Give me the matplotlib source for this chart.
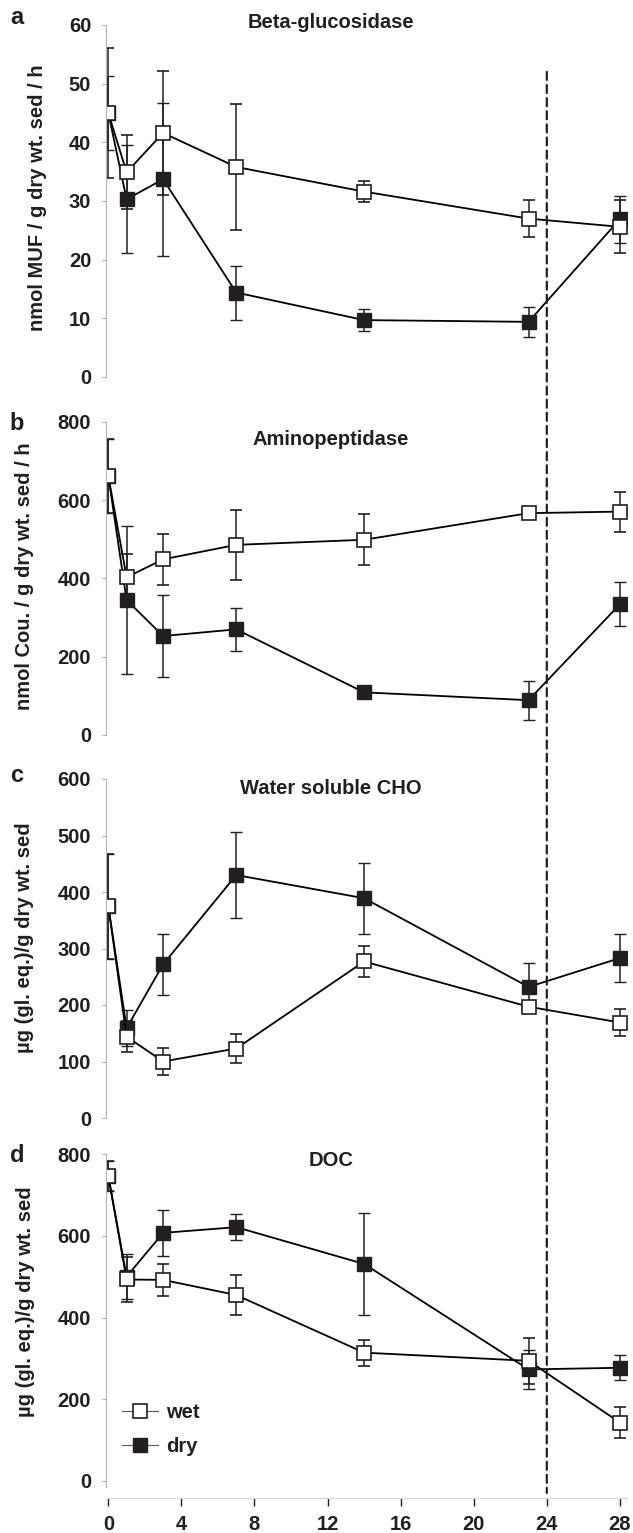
import matplotlib
matplotlib.use("Agg")
import matplotlib.pyplot as plt
from matplotlib.lines import Line2D
from matplotlib.patches import ConnectionPatch

plt.rcParams['font.family'] = ['Liberation Sans', 'DejaVu Sans']
plt.rcParams['font.weight'] = 'bold'

days = [0, 1, 3, 7, 14, 23, 28]
dry_start = 24

beta_wet = [45.0, 34.9, 41.6, 35.8, 31.6, 27.0, 25.6]
beta_wet_err = [11.0, 6.3, 10.5, 10.7, 1.8, 3.2, 4.5]
beta_dry = [45.0, 30.3, 33.7, 14.4, 9.7, 9.4, 26.9]
beta_dry_err = [6.3, 9.2, 13.0, 4.6, 1.9, 2.5, 4.0]

amino_wet = [662, 403, 449, 486, 499, 567, 571]
amino_wet_err = [95, 59, 65, 90, 65, 10, 51]
amino_dry = [662, 345, 253, 270, 109, 89, 334]
amino_dry_err = [95, 189, 105, 55, 10, 50, 56]

cho_wet = [375, 144, 100, 123, 277, 197, 169]
cho_wet_err = [93, 27, 24, 25, 28, 8, 24]
cho_dry = [375, 159, 272, 430, 389, 232, 283]
cho_dry_err = [93, 32, 54, 76, 63, 43, 43]

doc_wet = [746, 493, 492, 455, 314, 294, 143]
doc_wet_err = [37, 55, 39, 50, 32, 57, 38]
doc_dry = [746, 500, 607, 621, 531, 273, 277]
doc_dry_err = [37, 55, 56, 32, 125, 48, 31]

x_ticks = [0, 4, 8, 12, 16, 20, 24, 28]

W, H = 633, 1533
fig = plt.figure(figsize=(W / 100, H / 100), dpi=100)

# panel layout in pixels: (top, bottom) of the y range
left_px, right_px = 106.5, 627.2
spine_grey = '#b5b5b5'
ink = '#231f20'
fs = 14.5

panels = [
    dict(letter='a', title='Beta-glucosidase', top=25, bottom=377, ylim=(0, 60), yticks=range(0, 61, 10),
         wet=beta_wet, wet_err=beta_wet_err, dry=beta_dry, dry_err=beta_dry_err,
         ylabel='nmol MUF / g dry wt. sed / h', title_y=22, label_xy=(47, 198), letter_y=18),
    dict(letter='b', title='Aminopeptidase', top=422, bottom=735, ylim=(0, 800), yticks=range(0, 801, 200),
         wet=amino_wet, wet_err=amino_wet_err, dry=amino_dry, dry_err=amino_dry_err,
         ylabel='nmol Cou. / g dry wt. sed / h', title_y=440, label_xy=(34, 576), letter_y=423),
    dict(letter='c', title='Water soluble CHO', top=779, bottom=1118, ylim=(0, 600), yticks=range(0, 601, 100),
         wet=cho_wet, wet_err=cho_wet_err, dry=cho_dry, dry_err=cho_dry_err,
         ylabel='µg (gl. eq.)/g dry wt. sed', title_y=789, label_xy=(34, 938), letter_y=775),
    dict(letter='d', title='DOC', top=1154, bottom=1481, ylim=(0, 800), yticks=range(0, 801, 200),
         wet=doc_wet, wet_err=doc_wet_err, dry=doc_dry, dry_err=doc_dry_err,
         ylabel='µg (gl. eq.)/g dry wt. sed', title_y=1160, label_xy=(35, 1302), letter_y=1155),
]

xaxis_px = 1498
axes = []
for i, p in enumerate(panels):
    last = i == len(panels) - 1
    y0, y1 = p['ylim']
    bottom_px = p['bottom']
    lo = y0
    if last:
        # extend below zero so the time axis sits a little under the plot
        lo = y0 - (xaxis_px - p['bottom']) * (y1 - y0) / (p['bottom'] - p['top'])
        bottom_px = xaxis_px
    ax = fig.add_axes([left_px / W, 1 - bottom_px / H, (right_px - left_px) / W, (bottom_px - p['top']) / H])
    ax.set_xlim(-0.1, 28.4)
    ax.set_ylim(lo, y1)
    ax.patch.set_alpha(0)

    ax.errorbar(days, p['dry'], yerr=p['dry_err'], color='black', marker='s', ms=10, mfc=ink, mec=ink,
                mew=1.0, lw=1.3, elinewidth=1.1, capsize=4.5, capthick=1.1, ecolor=ink)
    ax.errorbar(days, p['wet'], yerr=p['wet_err'], color='black', marker='s', ms=10, mfc='white', mec=ink,
                mew=1.2, lw=1.3, elinewidth=1.1, capsize=4.5, capthick=1.1, ecolor=ink)

    for s in ['top', 'right']:
        ax.spines[s].set_visible(False)
    ax.spines['left'].set_color(spine_grey)
    ax.spines['left'].set_linewidth(0.8)
    ax.set_yticks(list(p['yticks']))
    ax.tick_params(axis='y', length=3, width=0.8, color=spine_grey, pad=8, labelsize=fs, labelcolor=ink)

    if last:
        ax.spines['left'].set_bounds(-15, y1)
        ax.spines['bottom'].set_color('#d8d8d8')
        ax.spines['bottom'].set_linewidth(0.8)
        ax.set_xticks(x_ticks)
        ax.tick_params(axis='x', length=6, width=1.0, color=ink, pad=6, labelsize=fs, labelcolor=ink)
    else:
        ax.spines['bottom'].set_visible(False)
        ax.tick_params(axis='x', bottom=False, labelbottom=False)

    h = bottom_px - p['top']
    ax.text((331 - left_px) / (right_px - left_px), (bottom_px - p['title_y']) / h, p['title'],
            transform=ax.transAxes, ha='center', va='center', fontsize=fs, fontweight='bold', color=ink)
    ax.set_ylabel(p['ylabel'], fontsize=fs, fontweight='bold', color=ink)
    ax.yaxis.set_label_coords((p['label_xy'][0] - left_px) / (right_px - left_px),
                              (bottom_px - p['label_xy'][1]) / h)
    fig.text(17 / W, 1 - p['letter_y'] / H, p['letter'], ha='center', va='center',
             fontsize=17, fontweight='bold', color=ink)
    axes.append(ax)

# dashed marker at the start of the dry period, running through all panels
con = ConnectionPatch(xyA=(dry_start, 52), coordsA='data', axesA=axes[0],
                      xyB=(dry_start, -29), coordsB='data', axesB=axes[-1],
                      color=ink, lw=1.6, linestyle=(0, (3.6, 2.3)))
fig.add_artist(con)

handles = [
    Line2D([], [], color='#555555', lw=0.8, marker='s', ms=10, mfc='white', mec=ink, mew=1.2),
    Line2D([], [], color='#555555', lw=0.8, marker='s', ms=10, mfc=ink, mec=ink),
]
axes[-1].legend(handles, ['wet', 'dry'], loc='lower left', bbox_to_anchor=(-0.005, 0.07), frameon=False,
                fontsize=fs, handlelength=1.8, handletextpad=0.4, labelspacing=0.75, labelcolor=ink)

fig.savefig('out.png', dpi=100)
